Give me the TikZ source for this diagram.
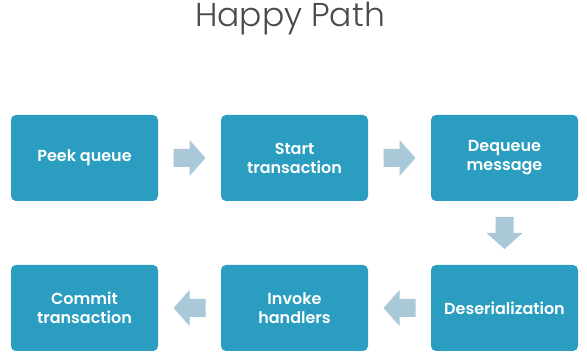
\documentclass[tikz,border=0pt]{standalone}
\usepackage{fontspec}
\setmainfont{Poppins}
\newfontfamily\titlefont{Poppins Light}
\newfontfamily\boxfont{Poppins SemiBold}
\definecolor{boxblue}{HTML}{2A9DC0}
\definecolor{arrowblue}{HTML}{A9C9D9}
\definecolor{titlegray}{HTML}{4A4A4A}
\begin{document}
\begin{tikzpicture}[x=1pt,y=-1pt,
  stepbox/.style={fill=boxblue, rounded corners=5pt, minimum width=147pt, minimum height=86pt,
    text=white, font=\boxfont\fontsize{16}{19}\selectfont, align=center, inner sep=0pt},
  pics/flowarrow/.style={code={
    \fill[arrowblue] (-16,-9) -- (0,-9) -- (0,-18) -- (16,0) -- (0,18) -- (0,9) -- (-16,9) -- cycle;}}]
\useasboundingbox (0,0) rectangle (587,358);
\fill[white] (0,0) rectangle (587,358);
\node[text=titlegray, font=\titlefont\fontsize{33}{36}\selectfont, anchor=base] (title) at (290,27) {Happy Path};
\node[stepbox] (peek) at (84.5,158) {Peek queue};
\node[stepbox] (start) at (294.5,158) {Start\\transaction};
\node[stepbox] (deq) at (504.5,158) {Dequeue\\message};
\node[stepbox] (deser) at (504.5,308) {Deserialization};
\node[stepbox] (invoke) at (294.5,308) {Invoke\\handlers};
\node[stepbox] (commit) at (84.5,308) {Commit\\transaction};
\path (peek.east) -- pic[sloped, allow upside down] {flowarrow} (start.west);
\path (start.east) -- pic[sloped, allow upside down] {flowarrow} (deq.west);
\path (deq.south) -- pic[sloped, allow upside down] {flowarrow} (deser.north);
\path (deser.west) -- pic[sloped, allow upside down] {flowarrow} (invoke.east);
\path (invoke.west) -- pic[sloped, allow upside down] {flowarrow} (commit.east);
\end{tikzpicture}
\end{document}
